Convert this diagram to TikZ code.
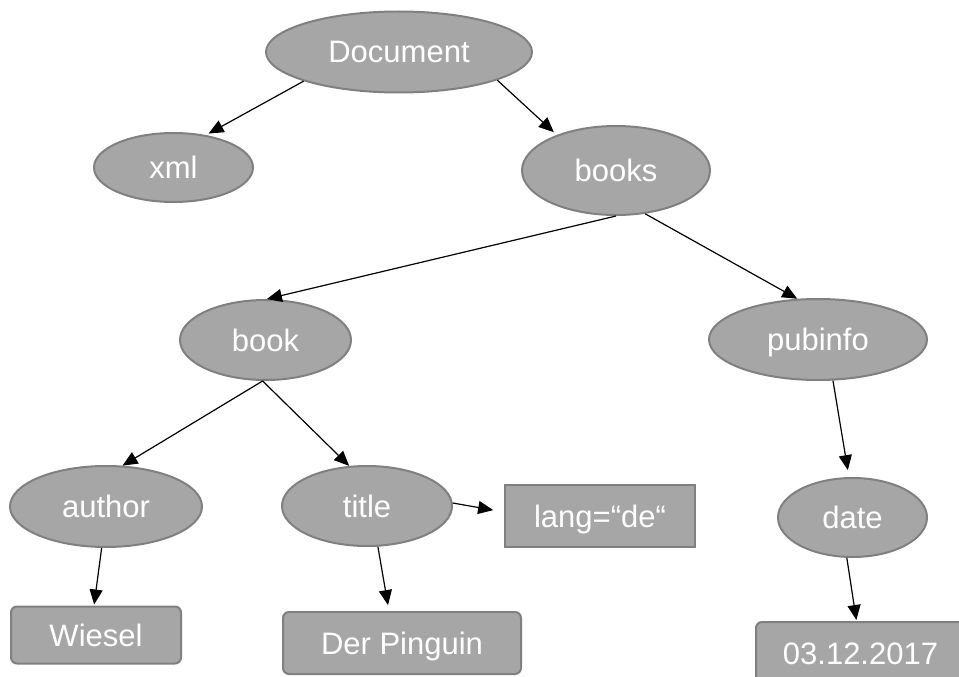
\documentclass[tikz,border=0pt]{standalone}
\usepackage{fontspec}
\setmainfont{Liberation Sans}
\usetikzlibrary{shapes.geometric,arrows.meta}
\definecolor{fillgray}{RGB}{166,166,166}
\definecolor{edgegray}{RGB}{128,128,128}
\tikzset{
  el/.style={ellipse, draw=edgegray, fill=fillgray, line width=2pt, text=white,
    inner sep=0pt, font=\fontsize{31}{36}\selectfont, text height=22pt, text depth=0pt},
  box/.style={rectangle, draw=edgegray, fill=fillgray, line width=2pt, text=white,
    inner sep=0pt, font=\fontsize{31}{36}\selectfont, text height=22pt, text depth=0pt},
  rbox/.style={box, rounded corners=6pt},
  link/.style={-{Triangle[length=15pt,width=13pt]}, line width=1.2pt, black}
}
\begin{document}
\begin{tikzpicture}[x=1pt,y=-1pt]
\useasboundingbox (0,0) rectangle (959,677);
\clip (0,0) rectangle (959,677);

% element and attribute nodes
\node[el, minimum width=266pt, minimum height=81pt] (doc) at (399,52) {Document};
\node[el, minimum width=159pt, minimum height=69pt] (xml) at (173.5,167.5) {xml};
\node[el, minimum width=188pt, minimum height=89pt] (books) at (616,170.5) {books};
\node[el, minimum width=171pt, minimum height=80pt] (book) at (265.5,340) {book};
\node[el, minimum width=218pt, minimum height=81pt] (pub) at (818,339.5) {pubinfo};
\node[el, minimum width=192pt, minimum height=81pt] (author) at (106,506.5) {author};
\node[el, minimum width=170pt, minimum height=80pt] (title) at (367,506) {title};
\node[el, minimum width=149pt, minimum height=79pt] (date) at (852.5,517.5) {date};
\node[box, minimum width=190pt, minimum height=62pt] (lang) at (600,516) {lang=“de“};

% text leaves
\node[rbox, minimum width=170pt, minimum height=57pt] (wiesel) at (96,635) {Wiesel};
\node[rbox, minimum width=238pt, minimum height=62pt] (ping) at (402,643) {Der Pinguin};
\node[rbox, minimum width=209pt, minimum height=62pt] (dt) at (860.5,653) {03.12.2017};

% connectors
\draw[link, shorten >=3pt] (doc.197) -- (xml.45);
\draw[link, shorten >=4pt] (doc.344) -- (books.149);
\draw[link] (books.270) -- (book.88);
\draw[link] (books.304) -- (pub.117);
\draw[link] (book.266) -- (author.68);
\draw[link] (book.266) -- (title.114);
\draw[link, shorten >=11pt] (title.2) -- ([yshift=4pt]lang.west);
\draw[link, shorten >=6pt] (title.285) -- ([xshift=-13pt]ping.north);
\draw[link, shorten >=1pt] (author.264) -- ([xshift=-2pt]wiesel.north);
\draw[link, shorten >=7pt] (pub.290) -- (date.95);
\draw[link, shorten >=1pt] (date.262) -- ([xshift=-4pt]dt.north);
\end{tikzpicture}
\end{document}
